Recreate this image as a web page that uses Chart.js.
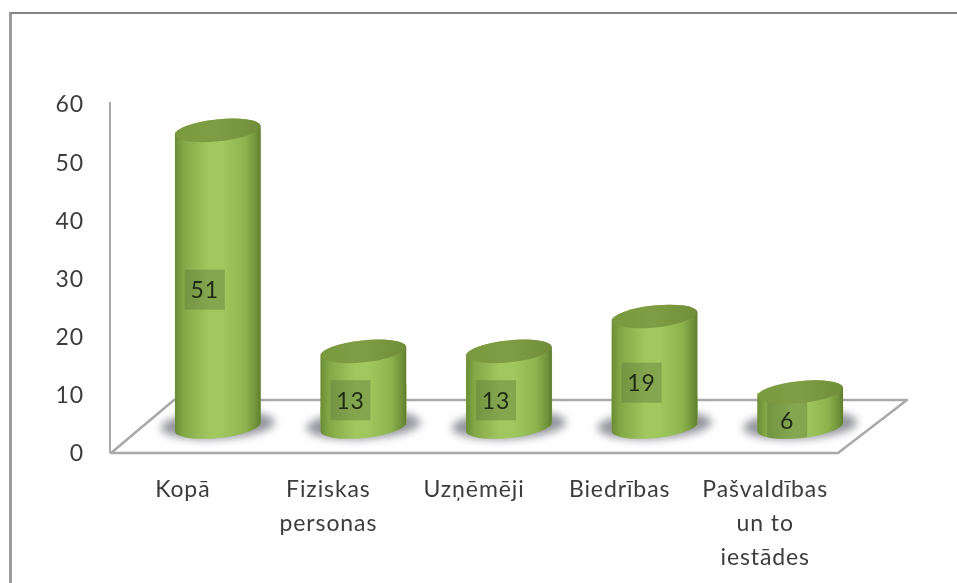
<!DOCTYPE html>
<html>
<head>
<meta charset="utf-8">
<script src="https://cdn.jsdelivr.net/npm/chart.js@4"></script>
<style>
  html, body { margin: 0; padding: 0; background: #fff; }
  #wrap { position: relative; width: 957px; height: 583px; overflow: hidden; }
  #frame { position: absolute; left: 9px; top: 12px; width: 960px; height: 600px; border-left: 3px solid #9c9c9c; border-top: 2px solid #858585; box-sizing: border-box; }
  canvas { position: absolute; left: 0; top: 0; }
</style>
</head>
<body>
<div id="wrap">
  <div id="frame"></div>
  <canvas id="cylChart" width="957" height="583"></canvas>
</div>
<script>
const categories = ['Kopā', ['Fiziskas', 'personas'], 'Uzņēmēji', 'Biedrības', ['Pašvaldības', 'un to', 'iestādes']];
const counts = [51, 13, 13, 19, 6];
const yTicks = [0, 10, 20, 30, 40, 50, 60];

const DEPTH_X = 35, DEPTH_Y = -25; // how far the cylinders stand in from the front of the floor
const TILT = -6 * Math.PI / 180, RY = 11;

function bodyGradient(ctx, x, w) {
    const g = ctx.createLinearGradient(x - w / 2, 0, x + w / 2, 0);
    g.addColorStop(0, '#6a8b35');
    g.addColorStop(0.1, '#83a746');
    g.addColorStop(0.4, '#a1c85f');
    g.addColorStop(0.55, '#a1c85f');
    g.addColorStop(0.82, '#8db34e');
    g.addColorStop(0.95, '#6f9039');
    g.addColorStop(1, '#5d7c2d');
    return g;
}

function silhouette(ctx, el) {
    const rx = el.width / 2;
    ctx.ellipse(el.x, el.base, rx, RY, TILT, 0, Math.PI);
    ctx.ellipse(el.x, el.y, rx, RY, TILT, Math.PI, Math.PI * 2);
    ctx.closePath();
}

const cylinderPlugin = {
    id: 'cylinders',
    beforeDraw(chart) {
        chart.ctx.letterSpacing = '0.9px';
    },
    beforeDatasetsDraw(chart) {
        const { ctx, chartArea: a } = chart;
        const bars = chart.getDatasetMeta(0).data;
        // floor
        ctx.save();
        ctx.strokeStyle = '#a9a9a9';
        ctx.lineWidth = 2.5;
        ctx.lineJoin = 'round';
        ctx.beginPath();
        ctx.moveTo(a.left + 1, a.bottom + 1);
        ctx.lineTo(a.left + 64, a.bottom - 52);
        ctx.lineTo(a.right + 69, a.bottom - 52);
        ctx.lineTo(a.right, a.bottom + 1);
        ctx.closePath();
        ctx.stroke();
        ctx.restore();
        // shadows
        ctx.save();
        ctx.translate(DEPTH_X, DEPTH_Y);
        ctx.filter = 'blur(4px)';
        ctx.fillStyle = 'rgba(112,114,124,0.75)';
        bars.forEach(el => {
            ctx.beginPath();
            ctx.ellipse(el.x, el.base - 2, el.width / 2 + 14, RY + 3, TILT / 2, 0, Math.PI * 2);
            ctx.fill();
        });
        ctx.restore();
        // the real bars, moved back and trimmed to the cylinder outline
        ctx.save();
        ctx.translate(DEPTH_X, DEPTH_Y);
        ctx.beginPath();
        bars.forEach(el => silhouette(ctx, el));
        ctx.clip();
    },
    afterDatasetsDraw(chart) {
        const { ctx } = chart;
        const bars = chart.getDatasetMeta(0).data;
        ctx.restore();
        ctx.save();
        ctx.translate(DEPTH_X, DEPTH_Y);
        bars.forEach((el, i) => {
            ctx.beginPath();
            silhouette(ctx, el);
            ctx.fillStyle = bodyGradient(ctx, el.x, el.width);
            ctx.fill();
            const lx = el.x - 13, ly = (el.y + el.base) / 2 + 11;
            // box behind the value, only on the cylinder
            ctx.save();
            ctx.beginPath();
            silhouette(ctx, el);
            ctx.clip();
            ctx.fillStyle = 'rgba(95,125,60,0.45)';
            ctx.fillRect(lx - 20, ly - 20, 40, 40);
            ctx.restore();
            // top cap
            const g = ctx.createLinearGradient(el.x - el.width / 2, 0, el.x + el.width / 2, 0);
            g.addColorStop(0, '#7a9a3f');
            g.addColorStop(0.5, '#7f9d44');
            g.addColorStop(1, '#6f8e38');
            ctx.beginPath();
            ctx.ellipse(el.x, el.y, el.width / 2 - 0.5, RY, TILT, 0, Math.PI * 2);
            ctx.fillStyle = g;
            ctx.fill();
            // value
            ctx.fillStyle = '#1f2a14';
            ctx.font = '23px Lato';
            ctx.textAlign = 'center';
            ctx.textBaseline = 'middle';
            ctx.fillText(String(counts[i]), lx, ly + 1);
        });
        ctx.restore();
    }
};

new Chart(document.getElementById('cylChart'), {
    type: 'bar',
    data: {
        labels: categories,
        datasets: [{
            data: counts,
            barPercentage: 0.592,
            categoryPercentage: 1,
            backgroundColor: '#a1c85f'
        }]
    },
    options: {
        responsive: false,
        animation: false,
        layout: { padding: { left: 0, top: 103, right: 119, bottom: 0 } },
        plugins: { legend: { display: false }, tooltip: { enabled: false } },
        scales: {
            x: {
                grid: { display: false },
                border: { display: false },
                afterFit: s => { s.height = 131; },
                ticks: {
                    maxRotation: 0,
                    autoSkip: false,
                    padding: 13,
                    color: '#3c3c3c',
                    font: { family: 'Lato', size: 23, lineHeight: 34 / 23 }
                }
            },
            y: {
                min: 0,
                max: 60,
                afterFit: s => { s.width = 110; },
                afterBuildTicks: s => { s.ticks = yTicks.map(v => ({ value: v })); },
                grid: { display: false },
                border: { color: '#a9a9a9', width: 2 },
                ticks: {
                    padding: 18,
                    labelOffset: 2,
                    color: '#3c3c3c',
                    font: { family: 'Lato', size: 23 }
                }
            }
        }
    },
    plugins: [cylinderPlugin]
});
</script>
</body>
</html>
